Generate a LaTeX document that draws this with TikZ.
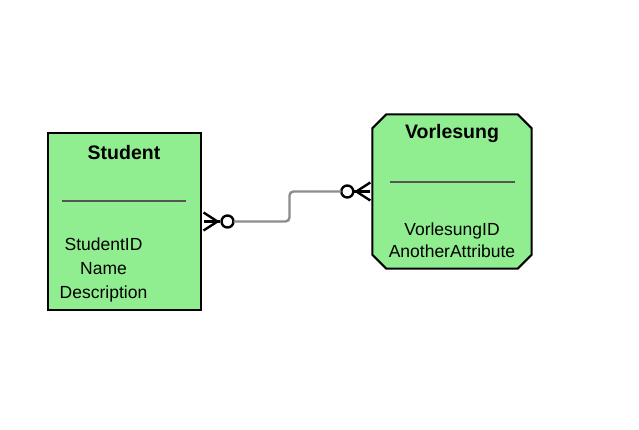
\documentclass[tikz,border=0pt]{standalone}
\usepackage{fontspec}
\setmainfont{Liberation Sans}
\usetikzlibrary{calc}
\definecolor{entgreen}{HTML}{90EE90}
\definecolor{conngray}{HTML}{8C8C8C}
\definecolor{sepgray}{HTML}{555555}
\tikzset{
  entity/.style={draw=black, line width=2pt, fill=entgreen, inner sep=0pt},
  title/.style={font=\fontsize{19.5}{22}\selectfont\bfseries, inner sep=0pt},
  attrs/.style={font=\fontsize{17.5}{24}\selectfont, align=center, inner sep=0pt},
  sepline/.style={draw=sepgray, line width=1.6pt},
  crow/.style={draw=black, line width=2.4pt},
  conn/.style={draw=conngray, line width=2.4pt, rounded corners=4pt}
}
\begin{document}
\begin{tikzpicture}[x=1pt,y=-1pt]
\useasboundingbox (0,0) rectangle (639,430);
% entities
\node[entity, minimum width=153pt, minimum height=176pt] (student) at (124,221.5) {};
\node[inner sep=0pt, minimum width=159pt, minimum height=154pt] (vorl) at (452,191.5) {};
\draw[entity]
  ($(vorl.north west)+(14,0)$) -- ($(vorl.north east)+(-14,0)$) --
  ($(vorl.north east)+(0,14)$) -- ($(vorl.south east)+(0,-14)$) --
  ($(vorl.south east)+(-14,0)$) -- ($(vorl.south west)+(14,0)$) --
  ($(vorl.south west)+(0,-14)$) -- ($(vorl.north west)+(0,14)$) -- cycle;
% titles
\node[title] (stitle) at (124,153) {Student};
\node[title] (vtitle) at (452,134) {Vorlesung};
% separators
\draw[sepline] (62,201) -- (186,201);
\draw[sepline] (390,182) -- (515,182);
% attributes
\node[attrs] (sattr) at (103.5,270) {StudentID\\Name\\Description};
\node[attrs, font=\fontsize{17.5}{21.5}\selectfont] (vattr) at (452,240) {VorlesungID\\AnotherAttribute};
% crow's foot at student
\draw[crow] ($(student.east)+(2,-9)$) -- ($(student.east)+(16,0)$) -- ($(student.east)+(2,9)$);
\draw[crow] ($(student.east)+(2,0)$) -- ($(student.east)+(18,0)$);
\draw[crow] ($(student.east)+(26,0)$) circle (6pt);
% crow's foot at vorlesung
\draw[crow] ($(vorl.west)+(-2,-9)$) -- ($(vorl.west)+(-16,0)$) -- ($(vorl.west)+(-2,9)$);
\draw[crow] ($(vorl.west)+(-2,0)$) -- ($(vorl.west)+(-18,0)$);
\draw[crow] ($(vorl.west)+(-25,0)$) circle (6pt);
% connector
\draw[conn] ($(student.east)+(32,0)$) -- ++(56,0) |- ($(vorl.west)+(-31,0)$);
\end{tikzpicture}
\end{document}
